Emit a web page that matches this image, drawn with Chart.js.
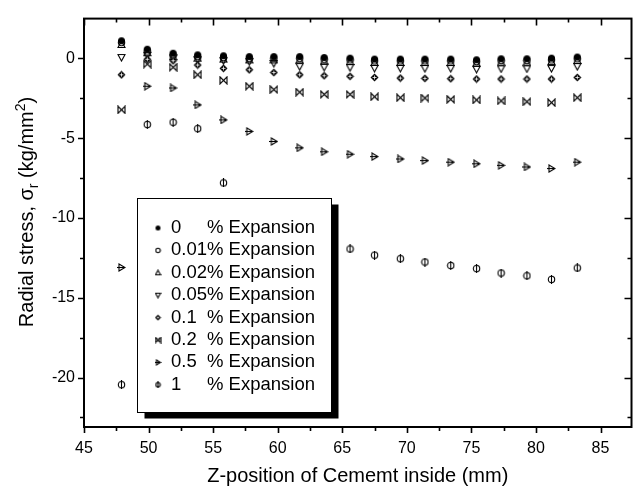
<!DOCTYPE html>
<html><head><meta charset="utf-8">
<script src="https://cdn.jsdelivr.net/npm/chart.js@4/dist/chart.umd.min.js"></script>
<style>html,body{margin:0;padding:0;background:#fff;} #wrap{width:637px;height:496px;}</style>
</head><body><div id="wrap"><canvas id="c" width="637" height="496"></canvas></div>
<script>
// ---- data ----
const zPos   = [47.9,49.9,51.9,53.8,55.8,57.8,59.7,61.7,63.6,65.6,67.5,69.5,71.4,73.4,75.4,77.3,79.3,81.2,83.2];
const exp0   = [1.11,0.58,0.33,0.23,0.17,0.12,0.12,0.12,0.06,0.02,-0.04,-0.04,-0.04,-0.04,-0.08,-0.02,-0.02,0.02,0.09];
const exp001 = [1.0,0.47,0.22,0.12,0.06,0.01,0.01,0.01,-0.05,-0.09,-0.15,-0.15,-0.15,-0.15,-0.19,-0.13,-0.13,-0.09,-0.02];
const exp002 = [0.88,0.36,0.12,0.02,-0.04,-0.09,-0.09,-0.09,-0.15,-0.19,-0.25,-0.25,-0.25,-0.25,-0.29,-0.23,-0.23,-0.19,-0.12];
const exp005 = [0.06,0.2,0.04,-0.08,-0.14,-0.2,-0.31,-0.51,-0.55,-0.57,-0.62,-0.62,-0.63,-0.63,-0.68,-0.65,-0.65,-0.63,-0.51];
const exp01  = [-1.02,-0.05,-0.14,-0.41,-0.62,-0.71,-0.88,-1.02,-1.08,-1.12,-1.19,-1.23,-1.25,-1.27,-1.29,-1.29,-1.29,-1.29,-1.19];
const exp02  = [-3.22,-0.35,-0.55,-1.02,-1.37,-1.74,-1.95,-2.11,-2.25,-2.25,-2.40,-2.46,-2.48,-2.56,-2.60,-2.66,-2.71,-2.77,-2.46];
const exp05  = [-13.1,-1.74,-1.85,-2.91,-3.85,-4.57,-5.2,-5.6,-5.85,-6.0,-6.15,-6.3,-6.4,-6.5,-6.6,-6.7,-6.8,-6.9,-6.5];
const exp1   = [-20.45,-4.14,-4.0,-4.4,-7.8,-9.6,-10.5,-11.1,-11.6,-11.94,-12.33,-12.55,-12.76,-12.98,-13.17,-13.45,-13.62,-13.85,-13.13];
const seriesNames = ['0','0.01','0.02','0.05','0.1','0.2','0.5','1'];
const seriesValues = [exp0,exp001,exp002,exp005,exp01,exp02,exp05,exp1];
const markerTypes = ['fcircle','ocircle','tri','dtri','diamond','bowtie','rtri','phi'];
const xTicks = [45,50,55,60,65,70,75,80,85];
const yTicks = [0,-5,-10,-15,-20];
const xTitle = 'Z-position of Cememt inside (mm)';
const legendSuffix = '% Expansion';

const FONT = '"Liberation Sans", Arial, sans-serif';

function makeMarker(type, size) {
  const c = document.createElement('canvas');
  c.width = c.height = size;
  const g = c.getContext('2d');
  g.strokeStyle = '#000'; g.fillStyle = '#000'; g.lineWidth = 1.1;
  const m = size / 2, r = size / 2 - 1;
  g.beginPath();
  switch (type) {
    case 'fcircle': g.arc(m, m, r, 0, Math.PI * 2); g.fill(); break;
    case 'ocircle': g.arc(m, m, r - 0.3, 0, Math.PI * 2); g.stroke(); break;
    case 'tri': g.moveTo(m, 1); g.lineTo(size - 1, size - 1.5); g.lineTo(1, size - 1.5); g.closePath(); g.stroke(); break;
    case 'dtri': g.moveTo(m, size - 1); g.lineTo(size - 1, 1.5); g.lineTo(1, 1.5); g.closePath(); g.stroke(); break;
    case 'diamond':
      g.moveTo(m, 0.5); g.lineTo(size - 0.5, m); g.lineTo(m, size - 0.5); g.lineTo(0.5, m); g.closePath(); g.fill();
      g.strokeStyle = '#fff'; g.lineWidth = 0.8; g.beginPath();
      g.moveTo(m, 2.5); g.lineTo(m, size - 2.5); g.moveTo(2.5, m); g.lineTo(size - 2.5, m); g.stroke();
      break;
    case 'bowtie':
      g.moveTo(1, 1); g.lineTo(size - 1, size - 1); g.lineTo(size - 1, 1); g.lineTo(1, size - 1); g.closePath(); g.stroke();
      break;
    case 'rtri':
      g.moveTo(2, 1); g.lineTo(size - 1, m); g.lineTo(2, size - 1); g.closePath(); g.stroke();
      g.beginPath(); g.moveTo(0, m); g.lineTo(size - 2, m); g.stroke();
      break;
    case 'phi':
      g.arc(m, m, r - 0.3, 0, Math.PI * 2); g.stroke();
      g.beginPath(); g.moveTo(m, 0); g.lineTo(m, size); g.stroke();
      break;
  }
  return c;
}

const plotMarkers = markerTypes.map(t => makeMarker(t, 9));
const legendMarkers = markerTypes.map(t => makeMarker(t, 7));

const datasets = seriesNames.map((name, k) => ({
  label: name + legendSuffix,
  data: zPos.map((x, i) => ({ x: x, y: seriesValues[k][i] })),
  pointStyle: plotMarkers[k],
  pointRadius: 4.5,
  showLine: false
})).reverse();

const framePlugin = {
  id: 'frame',
  afterDraw(chart) {
    const { ctx, chartArea: a, scales: { x, y } } = chart;
    ctx.save();
    ctx.strokeStyle = '#000';
    ctx.lineWidth = 1.6;
    const minorX = [], minorY = [];
    xTicks.forEach(v => { minorX.push(v + 2.5); });
    yTicks.forEach(v => { minorY.push(v - 2.5); minorY.push(v + 2.5); });
    ctx.beginPath();
    xTicks.forEach(v => {
      const px = Math.round(x.getPixelForValue(v)) + 0.5;
      ctx.moveTo(px, a.bottom); ctx.lineTo(px, a.bottom + 6);
      ctx.moveTo(px, a.top); ctx.lineTo(px, a.top + 7);
    });
    minorX.forEach(v => {
      if (v <= x.min || v >= x.max) return;
      const px = Math.round(x.getPixelForValue(v)) + 0.5;
      ctx.moveTo(px, a.bottom); ctx.lineTo(px, a.bottom + 4);
      ctx.moveTo(px, a.top); ctx.lineTo(px, a.top + 4);
    });
    yTicks.forEach(v => {
      const py = Math.round(y.getPixelForValue(v)) + 0.5;
      ctx.moveTo(a.left, py); ctx.lineTo(a.left - 6, py);
      ctx.moveTo(a.right, py); ctx.lineTo(a.right - 7, py);
    });
    [...new Set(minorY)].forEach(v => {
      if (v <= y.min || v >= y.max) return;
      const py = Math.round(y.getPixelForValue(v)) + 0.5;
      ctx.moveTo(a.left, py); ctx.lineTo(a.left - 4, py);
      ctx.moveTo(a.right, py); ctx.lineTo(a.right - 4, py);
    });
    ctx.stroke();
    ctx.lineWidth = 2;
    ctx.strokeRect(a.left, a.top, a.right - a.left, a.bottom - a.top);

    ctx.fillStyle = '#000';
    ctx.font = '20px ' + FONT;
    ctx.textAlign = 'center';
    ctx.textBaseline = 'alphabetic';
    ctx.fillText(xTitle, (a.left + a.right) / 2, 482);

    const big = '20px ' + FONT, small = '14px ' + FONT;
    const parts = [
      { t: 'Radial stress, \u03C3', f: big, dy: 0 },
      { t: 'r', f: small, dy: 5 },
      { t: ' (kg/mm', f: big, dy: 0 },
      { t: '2', f: small, dy: -8 },
      { t: ')', f: big, dy: 0 }
    ];
    let total = 0;
    parts.forEach(p => { ctx.font = p.f; p.w = ctx.measureText(p.t).width; total += p.w; });
    ctx.translate(33, 212);
    ctx.rotate(-Math.PI / 2);
    ctx.textAlign = 'left';
    let cx = -total / 2;
    parts.forEach(p => { ctx.font = p.f; ctx.fillText(p.t, cx, p.dy); cx += p.w; });
    ctx.restore();

    ctx.save();
    const L = 137.5, T = 198.5, R = 331.5, B = 412.5;
    ctx.fillStyle = '#000';
    ctx.fillRect(L + 7, T + 6, R - L, B - T);
    ctx.fillStyle = '#fff';
    ctx.fillRect(L, T, R - L, B - T);
    ctx.strokeStyle = '#000'; ctx.lineWidth = 1;
    ctx.strokeRect(L, T, R - L, B - T);
    ctx.fillStyle = '#000';
    ctx.font = '18.5px ' + FONT;
    ctx.textBaseline = 'middle';
    ctx.textAlign = 'left';
    seriesNames.forEach((n, i) => {
      const yy = 228 + i * 22.4;
      const mk = legendMarkers[i];
      ctx.drawImage(mk, 158 - mk.width / 2, yy - mk.height / 2);
      ctx.fillText(n, 171, yy);
      const w = ctx.measureText(n).width;
      ctx.fillText(legendSuffix, Math.max(171 + w, 207), yy);
    });
    ctx.restore();
  }
};

new Chart(document.getElementById('c'), {
  type: 'scatter',
  data: { datasets },
  options: {
    responsive: false,
    animation: false,
    events: [],
    layout: { padding: { top: 11, right: 3, left: 0, bottom: 0 } },
    plugins: { legend: { display: false }, tooltip: { enabled: false } },
    scales: {
      x: {
        type: 'linear', min: 45, max: 87.4,
        afterBuildTicks: s => { s.ticks = xTicks.map(v => ({ value: v })); },
        afterFit: s => { s.height = 69; },
        grid: { display: false, drawTicks: false },
        border: { display: false },
        ticks: { color: '#000', font: { family: FONT, size: 16 }, padding: 12, maxRotation: 0, autoSkip: false }
      },
      y: {
        type: 'linear', min: -23.1, max: 2.5,
        afterBuildTicks: s => { s.ticks = yTicks.map(v => ({ value: v })); },
        afterFit: s => { s.width = 84; },
        grid: { display: false, drawTicks: false },
        border: { display: false },
        ticks: { color: '#000', font: { family: FONT, size: 16 }, padding: 9, autoSkip: false }
      }
    }
  },
  plugins: [framePlugin]
});
</script>
</body></html>
